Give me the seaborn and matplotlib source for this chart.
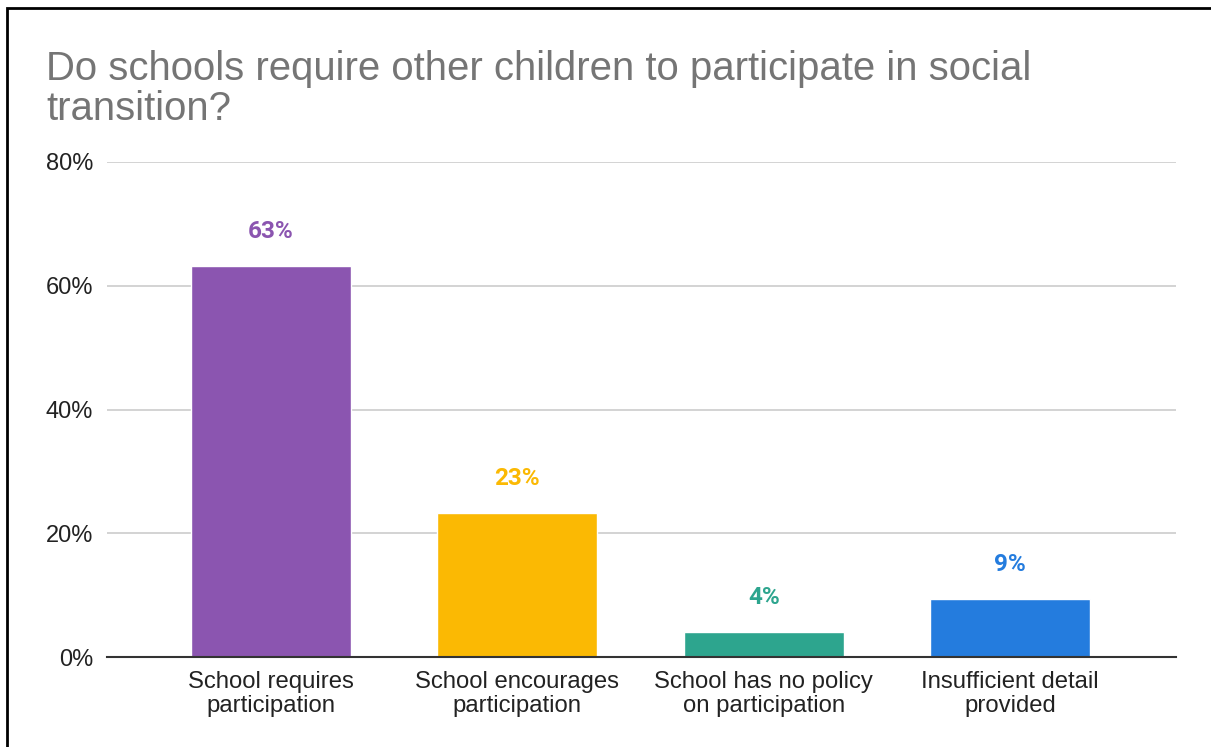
import matplotlib
matplotlib.use("Agg")
import matplotlib.pyplot as plt
import matplotlib.patches as mpatches
import seaborn as sns
import pandas as pd

categories = [
    "School requires\nparticipation",
    "School encourages\nparticipation",
    "School has no policy\non participation",
    "Insufficient detail\nprovided",
]
values = [63.2, 23.3, 4.0, 9.4]
colors = ["#8B55B0", "#FBB903", "#2DA58E", "#247CDE"]
yticks = [0, 20, 40, 60, 80]
title_lines = ["Do schools require other children to participate in social",
               "transition?"]

sns.set_theme(style="white")
plt.rcParams["font.family"] = ["Liberation Sans", "DejaVu Sans"]

W, H = 1211, 747
fig = plt.figure(figsize=(W / 100, H / 100), dpi=100)
ax = fig.add_axes([107 / W, (H - 657) / H, (1176 - 107) / W, (657 - 162) / H])

df = pd.DataFrame({"category": categories, "value": values})
sns.barplot(data=df, x="category", y="value", hue="category",
            palette=colors, width=0.65, legend=False, ax=ax,
            saturation=1, zorder=3)

ax.set_ylim(0, 80)
ax.set_xlim(-0.665, 3.673)
ax.set_yticks(yticks)
ax.set_yticklabels([f"{t}%" for t in yticks], fontsize=17, color="#222222")
ax.tick_params(axis="y", length=0, pad=10)
ax.tick_params(axis="x", length=0, pad=10, labelsize=17.2, labelcolor="#222222")
for lbl in ax.get_xticklabels():
    lbl.set_linespacing(1.1)
ax.set_xlabel("")
ax.set_ylabel("")
ax.grid(axis="y", color="#CCCCCC", linewidth=1.2, zorder=0)
for s in ["top", "right", "left"]:
    ax.spines[s].set_visible(False)
ax.spines["bottom"].set_color("#333333")
ax.spines["bottom"].set_linewidth(1.5)
ax.spines["bottom"].set_zorder(4)

# value labels above each bar
for i, (v, c) in enumerate(zip(values, colors)):
    ax.annotate(f"{v:.0f}%", xy=(i, v), xytext=(0, 20), textcoords="offset points",
                ha="center", va="baseline", fontsize=17.5, fontweight="bold",
                color=c, family=["Roboto", "DejaVu Sans"])

for k, line in enumerate(title_lines):
    fig.text(46 / W, 1 - (80 + 40 * k) / H, line, ha="left", va="baseline",
             fontsize=28.9, color="#757575")

# outer frame
fig.patches.append(mpatches.Rectangle((7 / W, -0.1), 1.2, 1 - 8 / H + 0.1,
                                      transform=fig.transFigure, fill=False,
                                      edgecolor="black", linewidth=2))

fig.savefig("out.png", dpi=100, facecolor="white")
